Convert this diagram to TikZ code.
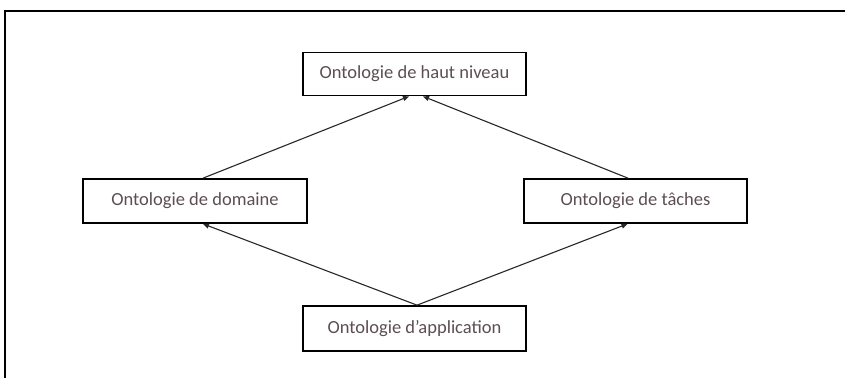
\documentclass[tikz,border=0pt]{standalone}
\usepackage{fontspec}
\setmainfont{Carlito}
\usetikzlibrary{arrows.meta}
\definecolor{labelgray}{RGB}{92,78,84}
\definecolor{edgegray}{RGB}{40,40,40}
\begin{document}
\begin{tikzpicture}[x=1pt,y=-1pt,
  onto/.style={draw=black,line width=1.7pt,fill=white,inner sep=0pt,
    minimum width=223pt,minimum height=43pt,text=labelgray,
    font=\fontsize{18.5}{20}\selectfont},
  link/.style={draw=edgegray,line width=1.1pt,
    -{Triangle[length=6pt,width=5pt]}}]
  \useasboundingbox (0,0) rectangle (845,378);
  \fill[white] (0,0) rectangle (845,378);
  % outer frame: top and left edges only
  \draw[line width=2pt,black] (845,11) -- (5,11) -- (5,378);
  % ontology boxes
  \node[onto] (haut) at (414.5,74) {Ontologie de haut niveau};
  \node[onto,minimum width=224pt,minimum height=44pt] (dom) at (195,201) {Ontologie de domaine};
  \node[onto,minimum height=44pt] (tach) at (635.5,201) {Ontologie de tâches};
  \node[onto,minimum height=45pt] (app) at (414.5,328.5) {Ontologie d’application};
  % specialisation links
  \draw[link] ([xshift=8pt]dom.north) -- ([xshift=-5.5pt]haut.south);
  \draw[link] ([xshift=-7.5pt]tach.north) -- ([xshift=8.5pt]haut.south);
  \draw[link] ([xshift=2.5pt]app.north) -- ([xshift=8pt]dom.south);
  \draw[link] ([xshift=2.5pt]app.north) -- ([xshift=-8pt]tach.south);
\end{tikzpicture}
\end{document}
